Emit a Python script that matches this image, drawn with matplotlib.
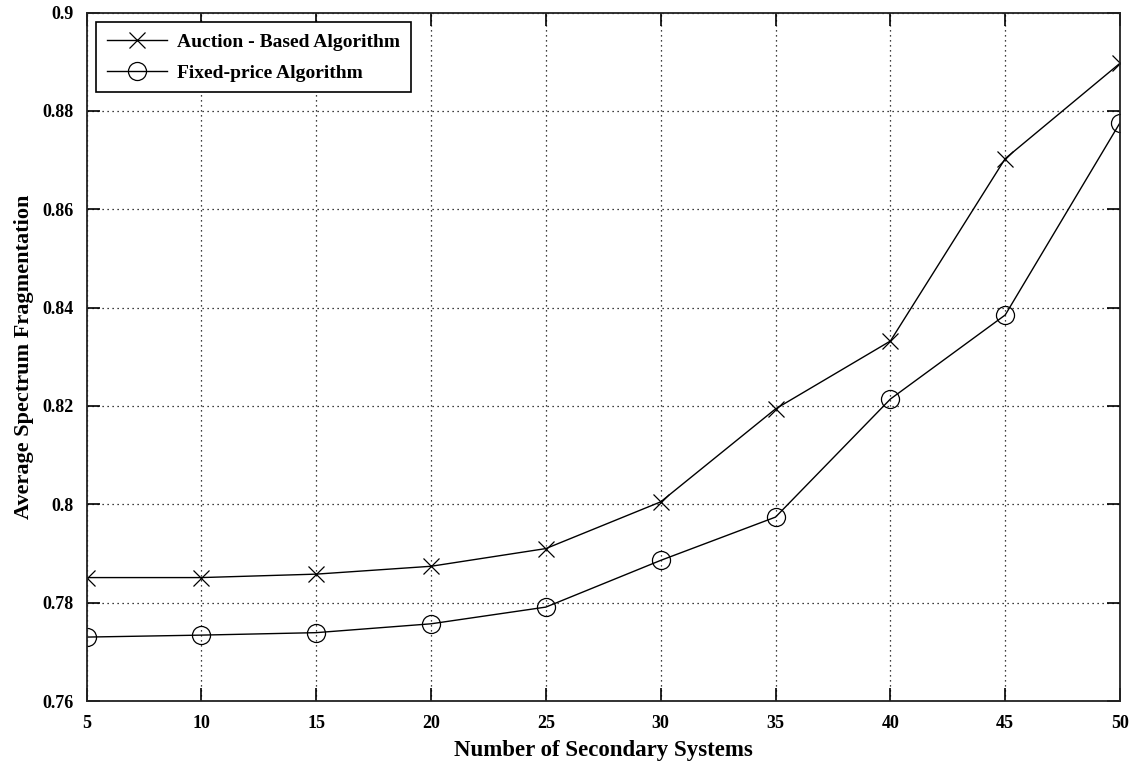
import matplotlib
matplotlib.use("Agg")
import matplotlib.pyplot as plt

# Data
num_systems = [5, 10, 15, 20, 25, 30, 35, 40, 45, 50]
auction = [0.7851, 0.7851, 0.7858, 0.7874, 0.7910, 0.8005, 0.8194, 0.8332, 0.8703, 0.8897]
fixed_price = [0.7730, 0.7734, 0.7739, 0.7757, 0.7791, 0.7886, 0.7974, 0.8214, 0.8385, 0.8776]
x_ticks = [5, 10, 15, 20, 25, 30, 35, 40, 45, 50]
y_ticks = [0.76, 0.78, 0.80, 0.82, 0.84, 0.86, 0.88, 0.90]
y_tick_labels = ["0.76", "0.78", "0.8", "0.82", "0.84", "0.86", "0.88", "0.9"]

plt.rcParams["font.family"] = ["Liberation Serif", "DejaVu Serif"]
plt.rcParams["font.weight"] = "bold"

fig = plt.figure(figsize=(11.34, 7.74), dpi=100)
ax = fig.add_axes([0.0763, 0.0943, 0.9114, 0.8895])

ax.plot(num_systems, auction, color="black", linewidth=1.0, marker="x",
        markersize=12, markeredgewidth=0.9, label="Auction - Based Algorithm")
ax.plot(num_systems, fixed_price, color="black", linewidth=1.0, marker="o",
        markersize=13, markerfacecolor="none", markeredgewidth=0.9,
        label="Fixed-price Algorithm")

ax.set_xlim(5, 50)
ax.set_ylim(0.76, 0.90)
ax.set_xticks(x_ticks)
ax.set_yticks(y_ticks)
ax.set_yticklabels(y_tick_labels)

ax.grid(True, linestyle=(0, (1, 3)), color="black", linewidth=0.9)
ax.tick_params(direction="in", length=9.5, width=1.2, top=True, right=True,
               labelsize=13)
ax.tick_params(axis="y", pad=9)
ax.tick_params(axis="x", pad=10)
for lbl in ax.get_xticklabels() + ax.get_yticklabels():
    lbl.set_fontweight("bold")
for sp in ax.spines.values():
    sp.set_linewidth(1.3)
    sp.set_color("#222222")

ax.set_xlabel("Number of Secondary Systems", fontsize=16.5, fontweight="bold", labelpad=6)
ax.set_ylabel("Average Spectrum Fragmentation", fontsize=16, fontweight="bold", labelpad=6)

leg = ax.legend(loc="upper left", fontsize=14, frameon=True, fancybox=False,
                edgecolor="black", framealpha=1, handlelength=3.1,
                handletextpad=0.5, borderaxespad=0.5, borderpad=0.55,
                labelspacing=0.7)
leg.get_frame().set_linewidth(1.2)
for t in leg.get_texts():
    t.set_fontweight("bold")

fig.savefig("out.png", dpi=100)
